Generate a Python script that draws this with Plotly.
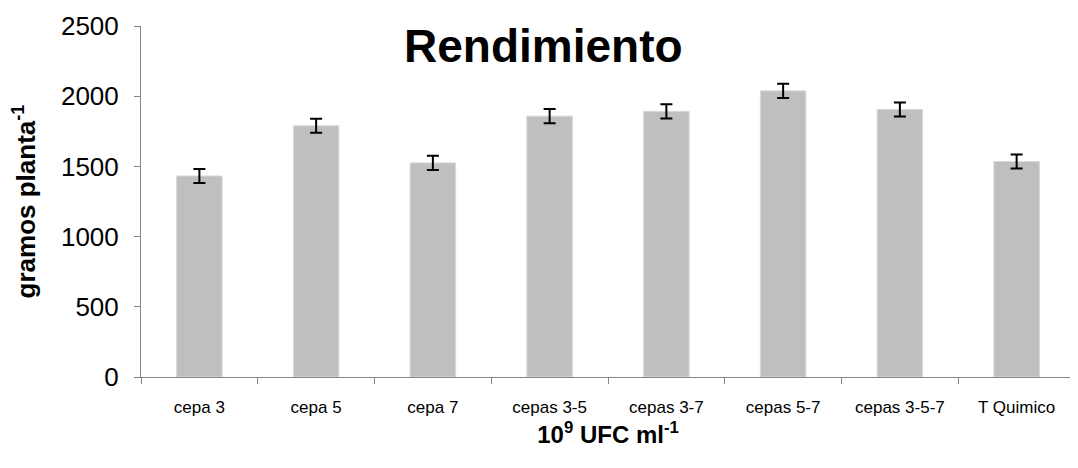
import plotly.graph_objects as go

categories = ["cepa 3", "cepa 5", "cepa 7", "cepas 3-5", "cepas 3-7", "cepas 5-7", "cepas 3-5-7", "T Quimico"]
values = [1432, 1789, 1525, 1858, 1892, 2038, 1905, 1535]
errors = [50, 50, 50, 50, 50, 50, 50, 50]

fig = go.Figure()
fig.add_trace(go.Bar(
    x=categories, y=values,
    marker=dict(color="#bfbfbf", line=dict(color="#d9d9d9", width=1)),
    error_y=dict(type="data", array=errors, visible=True, color="black", thickness=2, width=6),
    width=0.39,
))

# page body has an 8px default margin; figure sized to fit the 1078x468 window
W, H = 1070, 460
ml, mr, mt, mb = 133, 3, 15, 91
fig.update_layout(
    width=W, height=H,
    margin=dict(l=ml, r=mr, t=mt, b=mb),
    plot_bgcolor="white", paper_bgcolor="white",
    showlegend=False,
    font=dict(family="Liberation Sans, Arial, sans-serif", color="black"),
)
fig.update_xaxes(
    showline=True, linecolor="#868686", linewidth=1,
    ticks="outside", tickson="boundaries", ticklen=6, tickcolor="#868686",
    tickfont=dict(size=17), ticklabelstandoff=15,
    showgrid=False,
    title=dict(text="<b>10<sup>9</sup> UFC ml<sup>-1</sup></b>", font=dict(size=24), standoff=9),
)
fig.update_yaxes(
    range=[0, 2500], dtick=500,
    showline=True, linecolor="#868686", linewidth=1,
    ticks="outside", ticklen=6, tickcolor="#868686",
    tickfont=dict(size=26), ticklabelstandoff=10, showgrid=False, zeroline=False,
    title=dict(text="<b>gramos planta<sup>-1</sup></b>", font=dict(size=26), standoff=18),
)
fig.add_annotation(
    text="<b>Rendimiento</b>", x=(535 - ml) / (W - ml - mr), xref="paper",
    y=1 - (35 - mt) / (H - mt - mb), yref="paper",
    showarrow=False, font=dict(size=46), xanchor="center", yanchor="middle",
)
fig.write_html("out.html")
